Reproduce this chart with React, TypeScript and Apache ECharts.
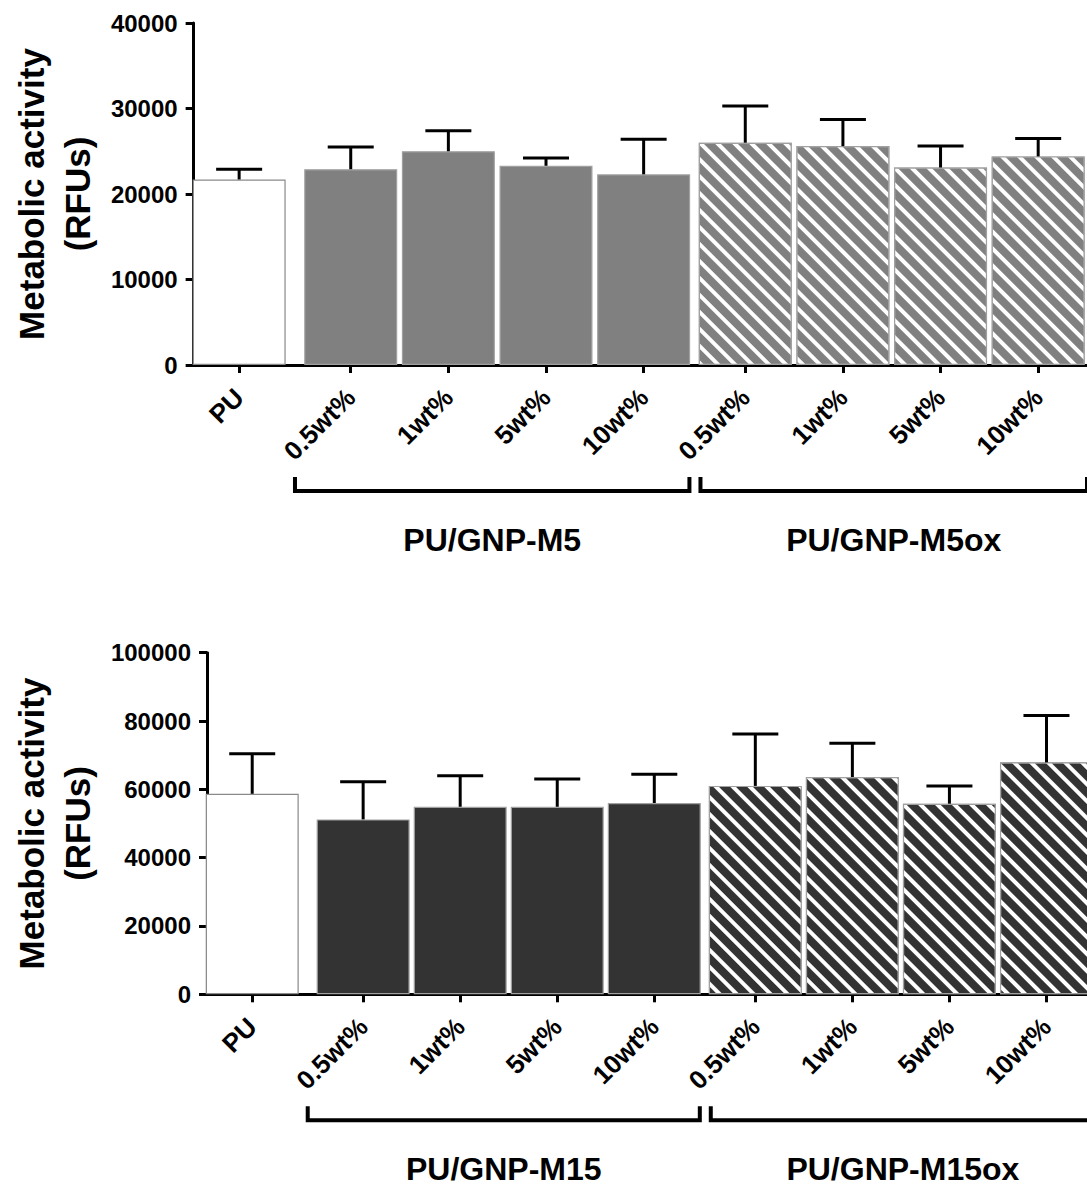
import React, { useEffect, useRef } from 'react';
import * as echarts from 'echarts';

// ---- data ----
const labels = ['PU', '0.5wt%', '1wt%', '5wt%', '10wt%', '0.5wt%', '1wt%', '5wt%', '10wt%'];
const groupSizes = [1, 4, 4];
const groupNamesTop = ['', 'PU/GNP-M5', 'PU/GNP-M5ox'];
const groupNamesBottom = ['', 'PU/GNP-M15', 'PU/GNP-M15ox'];

const topMeans = [21700, 22900, 25000, 23300, 22300, 26000, 25600, 23100, 24400];
const topSD = [1200, 2600, 2400, 900, 4100, 4300, 3100, 2500, 2100];
const bottomMeans = [58700, 51200, 54900, 54900, 56000, 61000, 63600, 55800, 67900];
const bottomSD = [11700, 11000, 9100, 8100, 8400, 15200, 9900, 5200, 13700];

const topYTicks = [0, 10000, 20000, 30000, 40000];
const bottomYTicks = [0, 20000, 40000, 60000, 80000, 100000];

const yTitle = 'Metabolic activity\n(RFUs)';

// ---- layout (not data) ----
const GAP_AFTER = [0.143, 0.041, 0];
const BRACKET_PAD = [[0, 0], [0.571, 0.469], [0.459, 0.5]];
const X_MIN = -0.466;
const X_MAX = 8.684;
const FONT = '"Liberation Sans", Arial, Helvetica, sans-serif';

const positions: number[] = [];
const groupOf: number[] = [];
(() => {
  let cursor = 0;
  groupSizes.forEach((n, g) => {
    for (let i = 0; i < n; i++) {
      positions.push(cursor);
      groupOf.push(g);
      cursor += 1;
    }
    cursor += GAP_AFTER[g];
  });
})();

function labelAt(v: number) {
  for (let i = 0; i < positions.length; i++) {
    if (Math.abs(positions[i] - v) < 1e-6) return labels[i];
  }
  return '';
}

function barStyle(g: number, color: string) {
  if (g === 0) return { color: '#ffffff', borderColor: '#8a8a8a', borderWidth: 1.2 };
  if (g === 1) return { color, borderColor: '#a0a0a0', borderWidth: 1.2 };
  return {
    color,
    borderColor: '#a0a0a0',
    borderWidth: 1.2,
    decal: {
      symbol: 'rect',
      symbolSize: 1,
      dashArrayX: [1, 0],
      dashArrayY: [3.2, 7.4],
      rotation: Math.PI / 4,
      color: '#ffffff',
    },
  };
}

function buildPanel(k: number, means: number[], sd: number[], yTicks: number[], color: string, groupNames: string[], nameGap: number) {
  const xAxis = {
    type: 'value',
    gridIndex: k,
    min: X_MIN,
    max: X_MAX,
    axisLine: { show: true, onZero: false, lineStyle: { color: '#000', width: 3 } },
    axisTick: { show: true, length: 8, customValues: positions, lineStyle: { color: '#000', width: 3 } },
    axisLabel: {
      show: true,
      customValues: positions,
      rotate: 45,
      margin: 28,
      formatter: (v: number) => labelAt(v),
      fontSize: 26,
      fontWeight: 'bold',
      color: '#000',
      fontFamily: FONT,
    },
    splitLine: { show: false },
  };
  const yAxis = {
    type: 'value',
    gridIndex: k,
    min: yTicks[0],
    max: yTicks[yTicks.length - 1],
    interval: yTicks[1] - yTicks[0],
    axisLine: { show: true, onZero: false, lineStyle: { color: '#000', width: 3 } },
    axisTick: { show: true, length: 8, lineStyle: { color: '#000', width: 3 } },
    axisLabel: { fontSize: 24, fontWeight: 'bold', color: '#000', margin: 16, fontFamily: FONT, formatter: (v: number) => String(v) },
    splitLine: { show: false },
    name: yTitle,
    nameLocation: 'middle',
    nameRotate: 90,
    nameGap,
    nameTextStyle: { fontSize: 35, fontWeight: 'bold', color: '#000', lineHeight: 46, fontFamily: FONT },
  };

  const bars = {
    type: 'bar',
    xAxisIndex: k,
    yAxisIndex: k,
    barWidth: 93,
    z: 2,
    data: means.map((m, i) => ({ value: [positions[i], m], itemStyle: barStyle(groupOf[i], color) })),
  };

  const errors = {
    type: 'custom',
    xAxisIndex: k,
    yAxisIndex: k,
    z: 5,
    clip: false,
    encode: { x: 0, y: 1 },
    data: means.map((m, i) => [positions[i], m, sd[i]]),
    renderItem: (params: any, api: any) => {
      const x = api.value(0);
      const m = api.value(1);
      const s = api.value(2);
      const p0 = api.coord([x, m]);
      const p1 = api.coord([x, m + s]);
      return {
        type: 'group',
        children: [
          { type: 'line', shape: { x1: p0[0], y1: p0[1], x2: p1[0], y2: p1[1] }, style: { stroke: '#000', lineWidth: 3 } },
          { type: 'line', shape: { x1: p1[0] - 23, y1: p1[1], x2: p1[0] + 23, y2: p1[1] }, style: { stroke: '#000', lineWidth: 3 } },
        ],
      };
    },
  };

  const bracketData: number[][] = [];
  let idx = 0;
  groupSizes.forEach((n, g) => {
    if (g > 0) {
      const first = positions[idx];
      const last = positions[idx + n - 1];
      bracketData.push([first - BRACKET_PAD[g][0], 0, last + BRACKET_PAD[g][1], g]);
    }
    idx += n;
  });

  const brackets = {
    type: 'custom',
    xAxisIndex: k,
    yAxisIndex: k,
    z: 5,
    clip: false,
    encode: { x: 0, y: 1 },
    data: bracketData,
    renderItem: (params: any, api: any) => {
      const a = api.coord([api.value(0), 0]);
      const b = api.coord([api.value(2), 0]);
      const g = api.value(3);
      const y0 = a[1];
      return {
        type: 'group',
        children: [
          {
            type: 'polyline',
            shape: { points: [[a[0], y0 + 112], [a[0], y0 + 126], [b[0], y0 + 126], [b[0], y0 + 112]] },
            style: { stroke: '#000', lineWidth: 4, fill: 'none', lineJoin: 'miter' },
          },
          {
            type: 'text',
            style: {
              text: groupNames[g],
              x: (a[0] + b[0]) / 2,
              y: y0 + 175,
              fill: '#000',
              fontSize: 32,
              fontWeight: 'bold',
              fontFamily: FONT,
              align: 'center',
              verticalAlign: 'middle',
            },
          },
        ],
      };
    },
  };

  return { xAxis, yAxis, series: [bars, errors, brackets] };
}

export default function App() {
  const ref = useRef<HTMLDivElement>(null);
  useEffect(() => {
    if (!ref.current) return;
    const chart = echarts.init(ref.current, null, { renderer: 'svg' });
    const p0 = buildPanel(0, topMeans, topSD, topYTicks, '#808080', groupNamesTop, 86);
    const p1 = buildPanel(1, bottomMeans, bottomSD, bottomYTicks, '#333333', groupNamesBottom, 94);
    chart.setOption({
      animation: false,
      backgroundColor: '#ffffff',
      textStyle: { fontFamily: FONT },
      grid: [
        { left: 190, top: 23, width: 897, height: 342, containLabel: false },
        { left: 198, top: 652.7, width: 897, height: 341.6, containLabel: false },
      ],
      xAxis: [p0.xAxis, p1.xAxis],
      yAxis: [p0.yAxis, p1.yAxis],
      series: [...p0.series, ...p1.series],
    });
    return () => chart.dispose();
  }, []);
  return (
    <div style={{ position: 'absolute', left: 0, top: 0, width: 1087, height: 1187, overflow: 'hidden', background: '#fff' }}>
      <div ref={ref} style={{ width: 1110, height: 1187 }} />
    </div>
  );
}
